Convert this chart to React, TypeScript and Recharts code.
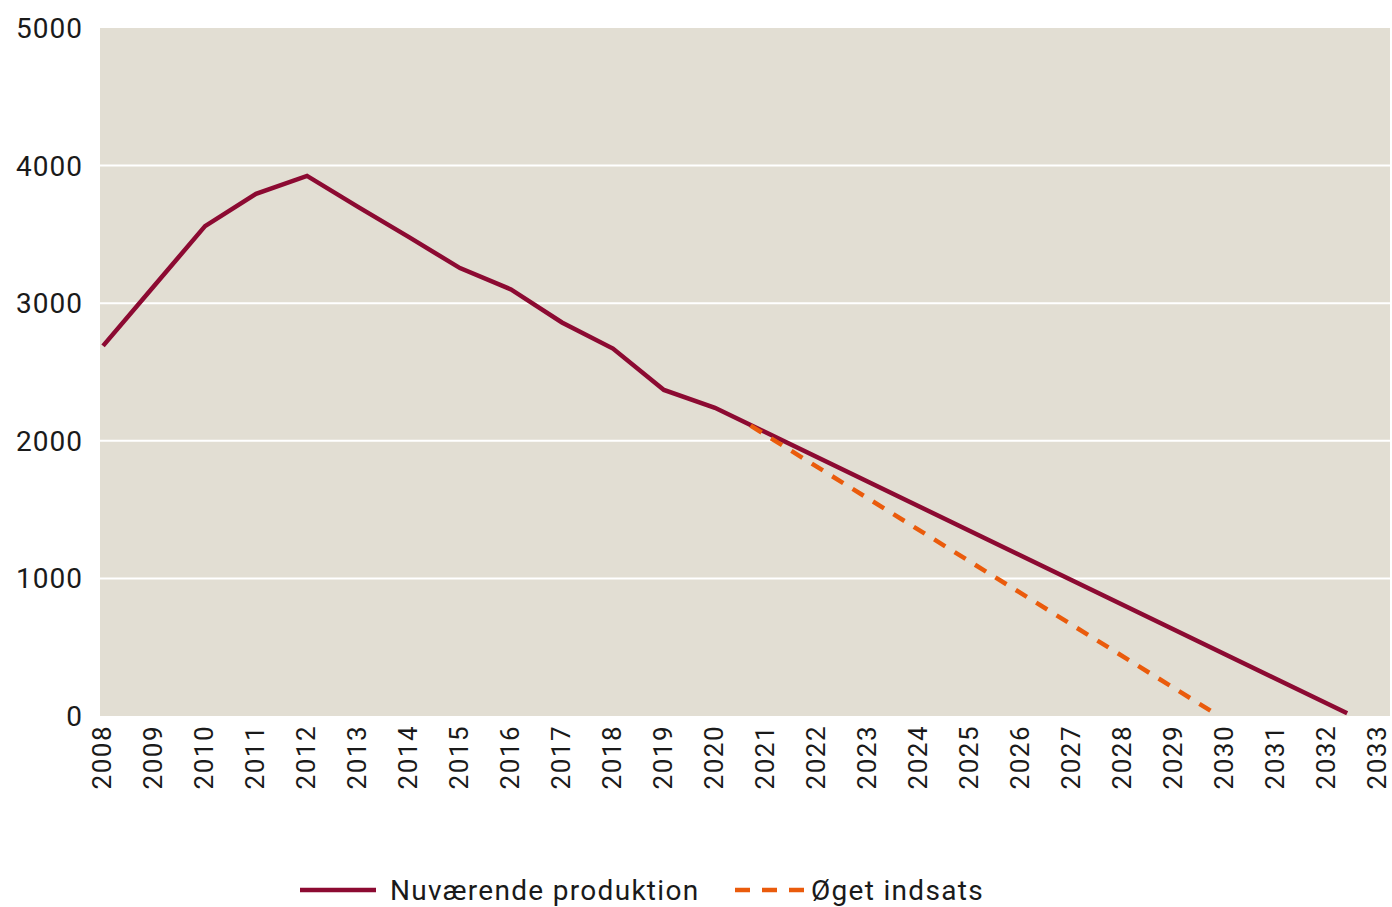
import { CartesianGrid, Line, LineChart, XAxis, YAxis } from "recharts";

const years = [
  2008, 2009, 2010, 2011, 2012, 2013, 2014, 2015, 2016, 2017, 2018, 2019, 2020, 2021, 2022, 2023, 2024, 2025, 2026,
  2027, 2028, 2029, 2030, 2031, 2032, 2033
];
const yTicks = [0, 1000, 2000, 3000, 4000, 5000];

const currentYears = [2008, 2009, 2010, 2011, 2012, 2013, 2014, 2015, 2016, 2017, 2018, 2019, 2020, 2032.4];
const currentValues = [2690, 3125, 3560, 3795, 3925, 3700, 3480, 3255, 3100, 2860, 2670, 2370, 2240, 20];

const boostYears = [2020.7, 2029.8];
const boostValues = [2110, 20];

const current = currentYears.map((year, i) => ({ year, value: currentValues[i] }));
const boost = boostYears.map((year, i) => ({ year, value: boostValues[i] }));

const RED = "#8c0a32";
const ORANGE = "#ea5b0c";
const FONT = "Roboto, sans-serif";

function YearTick({ x, y, payload }: any) {
  return (
    <g transform={`translate(${x},${y})`}>
      <text
        transform="rotate(-90)"
        x={-9}
        dy="0.3em"
        textAnchor="end"
        fill="#1a1a1a"
        fontSize={26}
        letterSpacing={1.5}
        fontFamily={FONT}
      >
        {payload.value}
      </text>
    </g>
  );
}

export default function App() {
  return (
    <div style={{ position: "absolute", left: 0, top: 0, width: 1392, height: 907, background: "#fff", fontFamily: FONT }}>
      <LineChart width={1392} height={907} margin={{ top: 28, right: 2, left: 0, bottom: 91 }}>
        <CartesianGrid
          fill="#e2ded3"
          stroke="#ffffff"
          strokeWidth={2}
          vertical={false}
          horizontalValues={[1000, 2000, 3000, 4000]}
        />
        <XAxis
          dataKey="year"
          type="number"
          domain={[2007.94, 2033.24]}
          ticks={years}
          interval={0}
          tick={<YearTick />}
          axisLine={false}
          tickLine={false}
          tickSize={0}
          tickMargin={0}
          height={100}
        />
        <YAxis
          domain={[0, 5000]}
          ticks={yTicks}
          axisLine={false}
          tickLine={false}
          tickMargin={11}
          width={100}
          tick={{ fill: "#1a1a1a", fontSize: 28, fontFamily: FONT, letterSpacing: 1 }}
        />
        <Line
          data={current}
          dataKey="value"
          type="linear"
          stroke={RED}
          strokeWidth={4.5}
          dot={false}
          isAnimationActive={false}
        />
        <Line
          data={boost}
          dataKey="value"
          type="linear"
          stroke={ORANGE}
          strokeWidth={4.5}
          strokeDasharray="13 11"
          dot={false}
          isAnimationActive={false}
        />
      </LineChart>
      <svg style={{ position: "absolute", left: 300, top: 886 }} width={76} height={8}>
        <line x1={0} y1={4} x2={76} y2={4} stroke={RED} strokeWidth={4.5} />
      </svg>
      <span
        style={{ position: "absolute", left: 390, top: 874, fontSize: 28, letterSpacing: 1.3, color: "#1a1a1a", lineHeight: "34px" }}
      >
        Nuværende produktion
      </span>
      <svg style={{ position: "absolute", left: 735, top: 886 }} width={71} height={8}>
        <line x1={0} y1={4} x2={71} y2={4} stroke={ORANGE} strokeWidth={4.5} strokeDasharray="15 12" />
      </svg>
      <span
        style={{ position: "absolute", left: 811, top: 874, fontSize: 28, letterSpacing: 1.3, color: "#1a1a1a", lineHeight: "34px" }}
      >
        Øget indsats
      </span>
    </div>
  );
}
